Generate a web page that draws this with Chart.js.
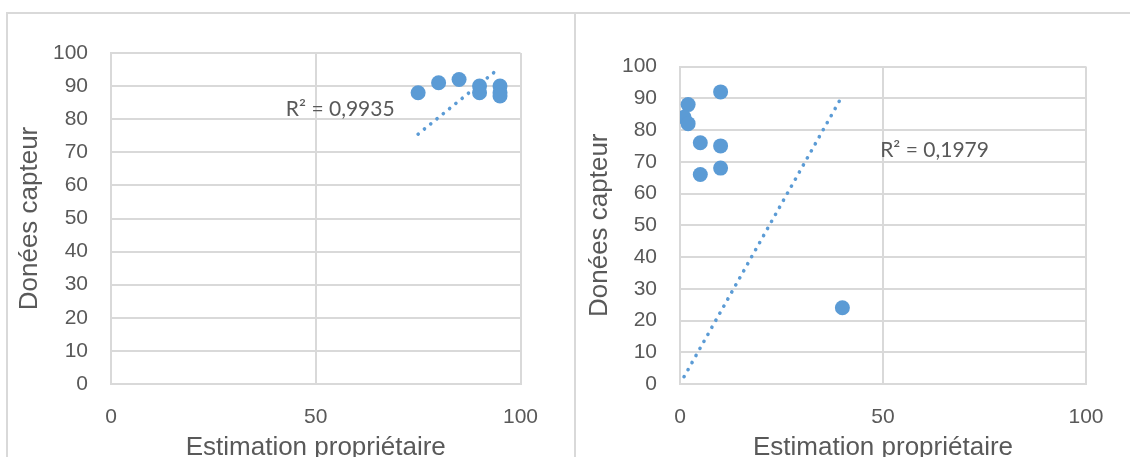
<!DOCTYPE html>
<html>
<head>
<meta charset="utf-8">
<script src="https://cdn.jsdelivr.net/npm/chart.js@4.4.1/dist/chart.umd.min.js"></script>
<style>
  html, body { margin: 0; padding: 0; background: #fff; overflow: hidden; }
  body { width: 1130px; height: 457px; position: relative; }
  .panel { position: absolute; top: 12px; height: 480px; border: 2px solid #d9d9d9; box-sizing: border-box; }
  #panelA { left: 6px; width: 570px; }
  #panelB { left: 574px; width: 600px; }
  canvas { position: absolute; top: 0; }
  #chartA { left: 0; }
  #chartB { left: 576px; }
</style>
</head>
<body>
<div class="panel" id="panelA"></div>
<div class="panel" id="panelB"></div>
<canvas id="chartA" width="575" height="490"></canvas>
<canvas id="chartB" width="554" height="490"></canvas>
<script>
// left chart
let ownerEstA = [75, 80, 85, 90, 90, 95, 95, 95];
let sensorA = [88, 91, 92, 90, 88, 90, 88, 87];
let trendXA = [75, 94];
let trendYA = [75.5, 94.6];
let r2A = 'R² = 0,9935';

// right chart
let ownerEstB = [10, 2, 1, 2, 5, 10, 10, 5, 40];
let sensorB = [92, 88, 84, 82, 76, 75, 68, 66, 24];
let trendXB = [1, 40];
let trendYB = [2.3, 90.8];
let r2B = 'R² = 0,1979';

let xTicks = [0, 50, 100];
let yTicks = [0, 10, 20, 30, 40, 50, 60, 70, 80, 90, 100];
let xTitle = 'Estimation propriétaire';
let yTitle = 'Donées capteur';

const blue = '#5b9bd5';
const grey = '#595959';
const gridCol = '#d9d9d9';

// writes the R² text where the trendline label sits
const r2Plugin = {
  id: 'r2text',
  afterDatasetsDraw(chart, args, opts) {
    let ctx = chart.ctx;
    let x = chart.scales.x.getPixelForValue(opts.at[0]);
    let y = chart.scales.y.getPixelForValue(opts.at[1]);
    ctx.save();
    ctx.font = '21px Lato';
    ctx.fillStyle = grey;
    ctx.textAlign = 'left';
    ctx.textBaseline = 'middle';
    ctx.fillText(opts.text, x, y);
    ctx.restore();
  }
};

function makeChart(id, xs, ys, tx, ty, r2, lay) {
  let points = xs.map((v, i) => ({ x: v, y: ys[i] }));
  let trend = tx.map((v, i) => ({ x: v, y: ty[i] }));
  return new Chart(document.getElementById(id), {
    type: 'scatter',
    data: {
      datasets: [
        {
          label: 'trend',
          data: trend,
          showLine: true,
          borderColor: blue,
          borderWidth: 3.6,
          borderDash: [0.1, 8],
          borderCapStyle: 'round',
          pointRadius: 0,
          fill: false
        },
        {
          label: 'points',
          data: points,
          backgroundColor: blue,
          borderColor: blue,
          borderWidth: 0,
          pointRadius: 7.5
        }
      ]
    },
    options: {
      responsive: false,
      animation: false,
      events: [],
      layout: { padding: { top: lay.top, right: lay.right, left: 0, bottom: 0 } },
      plugins: {
        legend: { display: false },
        tooltip: { enabled: false },
        r2text: { text: r2, at: lay.r2At }
      },
      scales: {
        x: {
          type: 'linear',
          min: 0, max: 100,
          afterBuildTicks: s => { s.ticks = xTicks.map(v => ({ value: v })); },
          afterFit: s => { s.height = 106; },
          grid: { color: gridCol, lineWidth: 2, drawTicks: false },
          border: { color: gridCol, width: 2 },
          ticks: { color: grey, padding: 21, font: { family: 'Liberation Sans', size: 21 } },
          title: {
            display: true, text: xTitle, color: grey,
            padding: { top: 0, bottom: 27 },
            font: { family: 'Liberation Sans', size: 26 }
          }
        },
        y: {
          type: 'linear',
          min: 0, max: 100,
          afterBuildTicks: s => { s.ticks = yTicks.map(v => ({ value: v })); },
          afterFit: s => { s.width = lay.yWidth; },
          grid: { color: gridCol, lineWidth: 2, drawTicks: false },
          border: { color: gridCol, width: 2 },
          ticks: { color: grey, padding: 23, font: { family: 'Liberation Sans', size: 21 } },
          title: {
            display: true, text: yTitle, color: grey,
            padding: { top: lay.yTitlePad, bottom: 0 },
            font: { family: 'Liberation Sans', size: 26 }
          }
        }
      }
    },
    plugins: [r2Plugin]
  });
}

makeChart('chartA', ownerEstA, sensorA, trendXA, trendYA, r2A,
  { top: 53, right: 54.5, yWidth: 111, yTitlePad: 14, r2At: [42.7, 83] });
makeChart('chartB', ownerEstB, sensorB, trendXB, trendYB, r2B,
  { top: 66.5, right: 44, yWidth: 104, yTitlePad: 8, r2At: [49.3, 73.5] });
</script>
</body>
</html>
